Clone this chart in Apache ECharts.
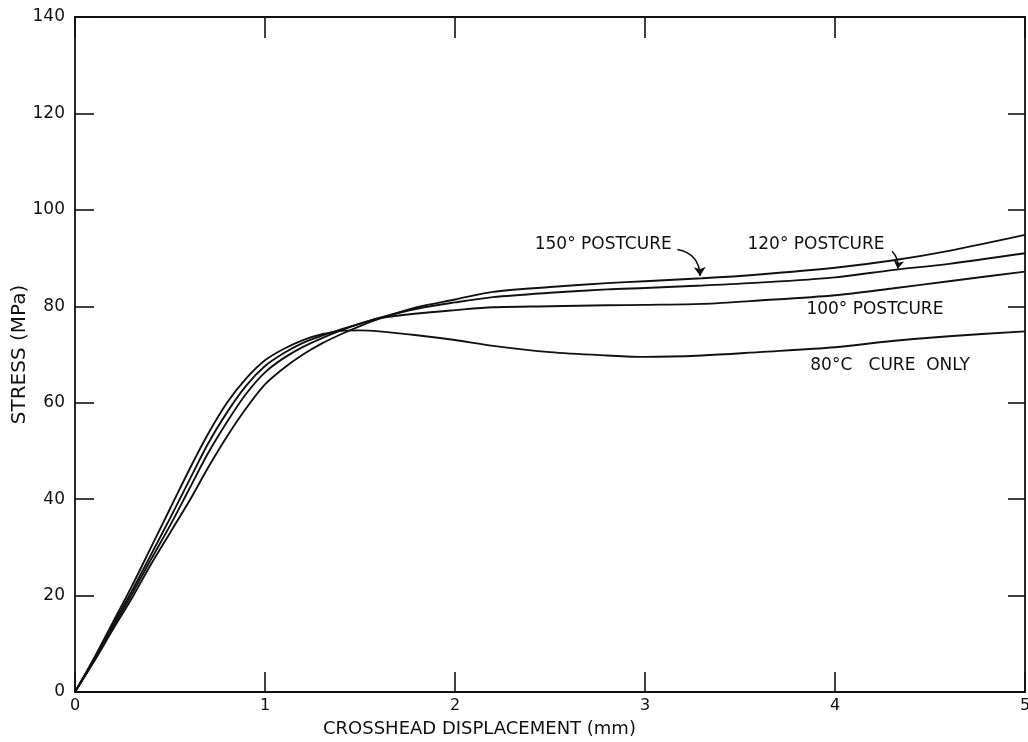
<!DOCTYPE html>
<html>
<head>
<meta charset="utf-8">
<script src="https://cdn.jsdelivr.net/npm/echarts@6/dist/echarts.min.js"></script>
<style>
html,body{margin:0;padding:0;background:#fff;}
#chart{width:1028px;height:742px;}
</style>
</head>
<body>
<div id="chart"></div>
<script>
// ---- data (crosshead displacement in mm, stress in MPa) ----
var xValues = [0, 0.1, 0.2, 0.3, 0.4, 0.5, 0.6, 0.7, 0.8, 0.9, 1.0, 1.1, 1.2, 1.3, 1.4, 1.5, 1.6, 1.8, 2.0, 2.2, 2.5, 2.8, 3.0, 3.3, 3.6, 4.0, 4.3, 4.6, 5.0];
var stress80  = [0, 7.0, 14.5, 22.0, 30.0, 38.0, 46.0, 53.5, 60.0, 65.0, 68.8, 71.2, 73.0, 74.2, 74.9, 75.0, 74.8, 74.0, 73.0, 71.8, 70.5, 69.8, 69.5, 69.8, 70.5, 71.5, 72.8, 73.8, 74.8];
var stress100 = [0, 6.8, 14.0, 21.0, 28.5, 36.0, 43.8, 51.5, 58.0, 63.5, 67.6, 70.3, 72.4, 73.9, 75.2, 76.4, 77.5, 78.5, 79.2, 79.8, 80.0, 80.2, 80.3, 80.5, 81.2, 82.3, 83.7, 85.2, 87.2];
var stress120 = [0, 6.6, 13.5, 20.3, 27.5, 34.5, 42.0, 49.5, 56.0, 61.8, 66.3, 69.3, 71.6, 73.4, 75.0, 76.4, 77.6, 79.5, 80.8, 81.9, 82.8, 83.5, 83.8, 84.3, 84.9, 86.0, 87.5, 88.8, 91.0];
var stress150 = [0, 6.3, 13.0, 19.5, 26.5, 33.0, 39.5, 46.5, 53.0, 58.8, 63.8, 67.2, 70.0, 72.3, 74.2, 75.9, 77.4, 79.8, 81.4, 83.0, 84.0, 84.8, 85.2, 85.8, 86.6, 88.0, 89.5, 91.5, 94.8];

var seriesNames = ["80°C   CURE  ONLY", "100° POSTCURE", "120° POSTCURE", "150° POSTCURE"];
// annotation anchor points (data coordinates)
var labelX = [4.29, 4.21, 3.90, 2.78];
var labelY = [67.8, 79.3, 92.9, 92.7];
var arrow150 = [[3.17, 91.8], [3.29, 86.3]];
var arrow120 = [[4.3, 91.4], [4.33, 87.8]];

var xTitle = "CROSSHEAD DISPLACEMENT (mm)";
var yTitle = "STRESS (MPa)";

function pairs(ys) { return xValues.map(function (x, i) { return [x, ys[i]]; }); }

var FONT = "DejaVu Sans";
var INK = "#111";

function labelPoint(i) {
  return {
    symbol: 'circle', symbolSize: 0, silent: true,
    data: [{ coord: [labelX[i], labelY[i]], value: seriesNames[i] }],
    label: { show: true, position: 'inside', formatter: seriesNames[i], color: INK, fontFamily: FONT, fontSize: 17 }
  };
}

var allY = [stress80, stress100, stress120, stress150];
var series = allY.map(function (ys, i) {
  return {
    name: seriesNames[i], type: 'line', data: pairs(ys), smooth: 0.3,
    showSymbol: false, symbol: 'none',
    lineStyle: { color: INK, width: 1.9 }, itemStyle: { color: INK },
    markPoint: labelPoint(i), animation: false, z: 3
  };
});
series.push({
  type: 'lines', coordinateSystem: 'cartesian2d', silent: true,
  symbol: ['none', 'arrow'], symbolSize: 9,
  lineStyle: { color: INK, width: 1.5, opacity: 1, curveness: 0.4 },
  data: [{ coords: arrow150 }], z: 4
});
series.push({
  type: 'lines', coordinateSystem: 'cartesian2d', silent: true,
  symbol: ['none', 'arrow'], symbolSize: 8,
  lineStyle: { color: INK, width: 1.5, opacity: 1, curveness: 0.25 },
  data: [{ coords: arrow120 }], z: 4
});

var chart = echarts.init(document.getElementById('chart'), null, { renderer: 'canvas' });
function tick(len) { return { show: true, inside: true, length: len, lineStyle: { color: INK, width: 1.6 } }; }
var axLine = { show: true, onZero: false, lineStyle: { color: INK, width: 1.8 } };
chart.setOption({
  animation: false,
  backgroundColor: '#fff',
  title: {
    text: xTitle, left: 318, top: 715,
    textStyle: { fontFamily: FONT, fontSize: 18, fontWeight: 'normal', color: INK }
  },
  grid: { left: 75, right: 3, top: 17, bottom: 50, containLabel: false, outerBoundsMode: 'none' },
  xAxis: [{
    type: 'value', min: 0, max: 5, interval: 1, position: 'bottom',
    axisLine: axLine, axisTick: tick(20), splitLine: { show: false },
    axisLabel: { color: INK, fontFamily: FONT, fontSize: 16, margin: 6 }
  }, {
    type: 'value', min: 0, max: 5, interval: 1, position: 'top',
    axisLine: axLine, axisTick: tick(21),
    splitLine: { show: false }, axisLabel: { show: false }
  }],
  yAxis: [{
    type: 'value', min: 0, max: 140, interval: 20, position: 'left',
    name: yTitle, nameLocation: 'middle', nameGap: 45, nameRotate: 90, nameMoveOverlap: false,
    nameTextStyle: { color: INK, fontFamily: FONT, fontSize: 20 },
    axisLine: axLine, axisTick: tick(19), splitLine: { show: false },
    axisLabel: { color: INK, fontFamily: FONT, fontSize: 17, margin: 10 }
  }, {
    type: 'value', min: 0, max: 140, interval: 20, position: 'right',
    axisLine: axLine, axisTick: tick(17),
    splitLine: { show: false }, axisLabel: { show: false }
  }],
  series: series
});
</script>
</body>
</html>
